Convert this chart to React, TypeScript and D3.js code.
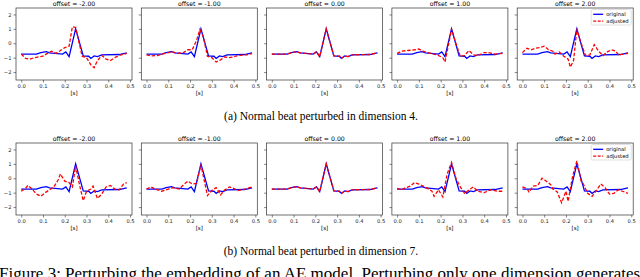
import React, { useEffect, useRef } from "react";
import * as d3 from "d3";

type Pt = [number, number];

const offsets = [-2, -1, 0, 1, 2];
const xTicks = [0.0, 0.1, 0.2, 0.3, 0.4, 0.5];
const yTicks = [-2, -1, 0, 1, 2];
const captions = ["(a) Normal beat perturbed in dimension 4.", "(b) Normal beat perturbed in dimension 7."];
const figureCaption = "Figure 3: Perturbing the embedding of an AE model. Perturbing only one dimension generates";

// original beat (same in both rows)
const original: Pt[] = [
  [0, -0.76], [0.03, -0.76], [0.07, -0.75], [0.09, -0.65], [0.115, -0.58], [0.13, -0.66],
  [0.155, -0.7], [0.19, -0.75], [0.205, -0.6], [0.22, -0.93], [0.25, 1.0], [0.285, -0.87],
  [0.31, -0.9], [0.32, -1.05], [0.335, -0.88], [0.35, -0.92], [0.37, -0.8], [0.45, -0.78], [0.485, -0.66],
];

// row a: dimension 4
const dim4m2: Pt[] = [
  [0, -0.75], [0.02, -1.05], [0.04, -1.1], [0.06, -1.0], [0.08, -0.95], [0.1, -0.9], [0.12, -0.7],
  [0.14, -0.55], [0.16, -0.7], [0.18, -0.5], [0.2, -0.3], [0.22, -0.2], [0.235, 1.15], [0.25, 1.1],
  [0.28, -0.9], [0.3, -1.0], [0.32, -1.5], [0.335, -1.7], [0.35, -1.2], [0.37, -0.85], [0.39, -1.1],
  [0.41, -1.2], [0.43, -1.0], [0.45, -0.85], [0.485, -0.7],
];
const dim4m1: Pt[] = [
  [0, -0.8], [0.02, -0.88], [0.05, -0.85], [0.08, -0.72], [0.1, -0.65], [0.12, -0.6], [0.14, -0.7],
  [0.17, -0.65], [0.19, -0.45], [0.21, -0.45], [0.23, 0.2], [0.245, 0.95], [0.26, 0.5], [0.28, -0.9],
  [0.3, -1.0], [0.32, -1.3], [0.34, -1.15], [0.36, -0.95], [0.38, -1.0], [0.4, -0.95], [0.42, -0.85],
  [0.46, -0.8], [0.485, -0.72],
];
const dim4p1: Pt[] = [
  [0, -0.7], [0.02, -0.55], [0.05, -0.5], [0.08, -0.45], [0.1, -0.4], [0.12, -0.55], [0.14, -0.65],
  [0.17, -0.75], [0.19, -0.85], [0.21, -1.0], [0.22, -1.3], [0.24, 0.2], [0.25, 1.0], [0.27, 0.0],
  [0.29, -0.9], [0.31, -0.85], [0.33, -0.5], [0.35, -0.8], [0.37, -0.85], [0.4, -0.65], [0.42, -0.65],
  [0.45, -0.75], [0.485, -0.7],
];
const dim4p2: Pt[] = [
  [0, -0.65], [0.02, -0.35], [0.04, -0.45], [0.06, -0.35], [0.08, -0.3], [0.1, -0.2], [0.12, -0.45],
  [0.14, -0.55], [0.15, -0.75], [0.17, -0.6], [0.19, -0.9], [0.21, -1.1], [0.22, -1.65], [0.235, -1.2],
  [0.25, 1.0], [0.265, 0.2], [0.29, -0.85], [0.31, -0.8], [0.33, -0.1], [0.35, -0.55], [0.37, -0.85],
  [0.39, -0.6], [0.41, -0.45], [0.43, -0.55], [0.44, -0.8], [0.485, -0.7],
];

// row b: dimension 7
const dim7m2: Pt[] = [
  [0, -0.9], [0.02, -0.7], [0.03, -0.5], [0.05, -0.75], [0.07, -1.1], [0.09, -1.25], [0.11, -1.0],
  [0.13, -0.8], [0.15, -0.6], [0.17, -0.1], [0.18, 0.3], [0.2, -0.2], [0.22, -0.3], [0.235, -0.6],
  [0.25, 0.85], [0.27, -0.6], [0.285, -1.55], [0.3, -0.9], [0.32, -0.75], [0.33, -0.55], [0.35, -1.4],
  [0.37, -1.1], [0.39, -0.6], [0.41, -0.5], [0.43, -0.75], [0.45, -0.8], [0.47, -0.4], [0.485, -0.3],
];
const dim7m1: Pt[] = [
  [0, -0.75], [0.02, -0.6], [0.04, -0.75], [0.07, -0.9], [0.1, -0.75], [0.12, -0.65], [0.15, -0.75],
  [0.17, -0.45], [0.19, -0.2], [0.21, -0.4], [0.23, -0.35], [0.25, 0.95], [0.27, -0.5], [0.28, -1.2],
  [0.3, -0.85], [0.32, -0.65], [0.34, -1.15], [0.36, -0.8], [0.38, -0.6], [0.4, -0.7], [0.42, -0.85],
  [0.45, -0.75], [0.485, -0.6],
];
const dim7p1: Pt[] = [
  [0, -0.7], [0.02, -0.8], [0.04, -0.65], [0.06, -0.55], [0.08, -0.3], [0.1, -0.4], [0.12, -0.55],
  [0.14, -0.7], [0.16, -0.9], [0.17, -1.25], [0.19, -0.8], [0.21, -1.3], [0.23, 0.3], [0.25, 1.1],
  [0.27, 0.0], [0.29, -0.6], [0.31, -1.05], [0.33, -0.8], [0.35, -0.6], [0.37, -0.9], [0.4, -1.0],
  [0.43, -0.8], [0.46, -0.9], [0.485, -0.9],
];
const dim7p2: Pt[] = [
  [0, -0.6], [0.02, -0.7], [0.03, -0.95], [0.05, -0.55], [0.07, -0.5], [0.09, 0.0], [0.11, -0.2],
  [0.13, -0.45], [0.14, -0.75], [0.16, -0.95], [0.18, -1.7], [0.2, -0.9], [0.21, -1.6], [0.23, 0.1],
  [0.25, 1.2], [0.27, -0.2], [0.28, -0.4], [0.3, -1.05], [0.32, -1.25], [0.34, -0.85], [0.36, -0.4],
  [0.38, -0.65], [0.4, -1.1], [0.42, -1.05], [0.44, -0.8], [0.46, -0.9], [0.485, -1.05],
];

const rows: Pt[][][] = [
  [dim4m2, dim4m1, original, dim4p1, dim4p2],
  [dim7m2, dim7m1, original, dim7p1, dim7p2],
];

const W = 640;
const H = 277;
const panelW = 116;
const panelH = 72;
const panelX0 = 16;
const panelStep = 125.3;
const rowTops = [8, 143];

const App = () => {
  const svgRef = useRef<SVGSVGElement>(null);

  useEffect(() => {
    const svg = d3.select(svgRef.current);
    svg.selectAll("*").remove();

    const x = d3.scaleLinear().domain([-0.024, 0.509]).range([0, panelW]);
    const y = d3.scaleLinear().domain([-2.55, 2.45]).range([panelH, 0]);
    const line = d3.line<Pt>().x((d) => x(d[0])).y((d) => y(d[1]));

    rows.forEach((series, r) => {
      offsets.forEach((off, i) => {
        const g = svg
          .append("g")
          .attr("transform", `translate(${panelX0 + i * panelStep},${rowTops[r]})`);

        const xAxis = d3.axisBottom(x).tickValues(xTicks).tickSize(2.5).tickPadding(1.5).tickFormat(d3.format(".1f"));
        g.append("g").attr("transform", `translate(0,${panelH})`).call(xAxis);
        const yAxis = d3
          .axisLeft(y)
          .tickValues(yTicks)
          .tickSize(2.5)
          .tickPadding(2)
          .tickFormat((d) => (i === 0 ? d3.format("d")(d as number).replace("-", "\u2212") : ""));
        g.append("g").call(yAxis);
        g.selectAll(".domain").remove();
        g.selectAll(".tick line").attr("stroke", "#333").attr("stroke-width", 0.6);
        g.selectAll(".tick text").attr("font-family", "DejaVu Sans").attr("font-size", 5.2).attr("fill", "#222");

        g.append("rect")
          .attr("width", panelW)
          .attr("height", panelH)
          .attr("fill", "none")
          .attr("stroke", "#333")
          .attr("stroke-width", 0.7);

        g.append("path")
          .datum(original)
          .attr("d", line)
          .attr("fill", "none")
          .attr("stroke", "#0000ff")
          .attr("stroke-width", 1.3);
        g.append("path")
          .datum(series[i])
          .attr("d", line)
          .attr("fill", "none")
          .attr("stroke", "#ff0000")
          .attr("stroke-width", 1.3)
          .attr("stroke-dasharray", "3.5,1.8");

        g.append("text")
          .attr("x", panelW / 2)
          .attr("y", -2)
          .attr("text-anchor", "middle")
          .attr("font-family", "DejaVu Sans")
          .attr("font-size", 6.2)
          .text(`offset = ${off.toFixed(2)}`);
        g.append("text")
          .attr("x", panelW / 2)
          .attr("y", panelH + 15)
          .attr("text-anchor", "middle")
          .attr("font-family", "DejaVu Sans")
          .attr("font-size", 5.5)
          .text("[s]");

        if (i === 4) {
          const lg = g.append("g").attr("transform", `translate(${panelW - 42},1.5)`);
          lg.append("rect")
            .attr("width", 40)
            .attr("height", 15.5)
            .attr("rx", 1.5)
            .attr("fill", "white")
            .attr("fill-opacity", 0.8)
            .attr("stroke", "#ccc")
            .attr("stroke-width", 0.6);
          const items = [
            { label: "original", color: "#0000ff", dash: null },
            { label: "adjusted", color: "#ff0000", dash: "3,1.5" },
          ];
          items.forEach((it, k) => {
            const yy = 4.8 + k * 6.8;
            lg.append("line")
              .attr("x1", 2)
              .attr("x2", 12)
              .attr("y1", yy)
              .attr("y2", yy)
              .attr("stroke", it.color)
              .attr("stroke-width", 1.3)
              .attr("stroke-dasharray", it.dash);
            lg.append("text")
              .attr("x", 15)
              .attr("y", yy + 1.8)
              .attr("font-family", "DejaVu Sans")
              .attr("font-size", 5.2)
              .text(it.label);
          });
        }
      });

      svg.append("text")
        .attr("x", 321)
        .attr("y", rowTops[r] + panelH + 40)
        .attr("text-anchor", "middle")
        .attr("font-family", "Liberation Serif")
        .attr("font-size", 11.5)
        .text(captions[r]);
    });

    // figure caption runs off the bottom edge in the source
    svg.append("text")
      .attr("x", -1)
      .attr("y", 279)
      .attr("font-family", "Liberation Serif")
      .attr("font-size", 17)
      .text(figureCaption);
  }, []);

  return (
    <svg
      ref={svgRef}
      width={W}
      height={H}
      style={{ position: "absolute", left: 0, top: 0, background: "white" }}
    />
  );
};

export default App;
